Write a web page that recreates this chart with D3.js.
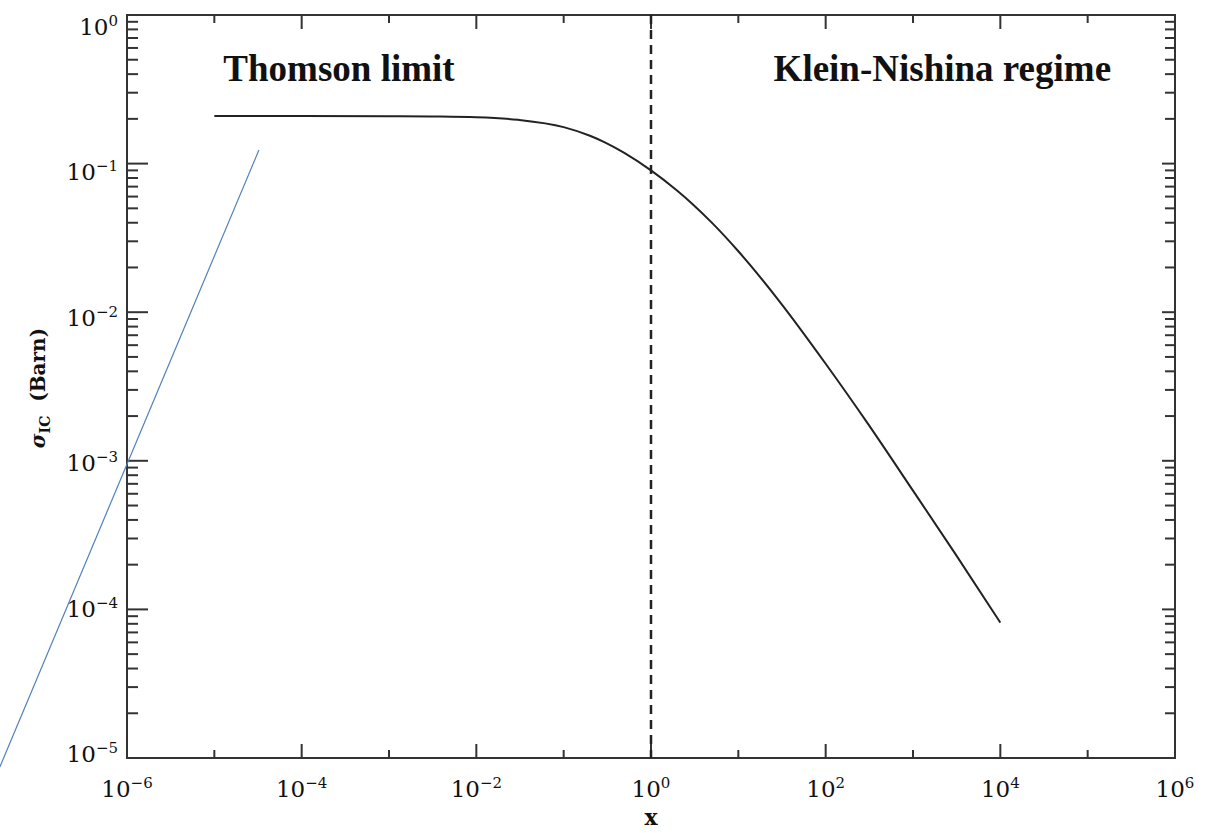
<!DOCTYPE html>
<html>
<head>
<meta charset="utf-8">
<script src="https://cdn.jsdelivr.net/npm/d3@7"></script>
<style>
  body { margin: 0; background: #fff; }
  text { fill: #111; }
</style>
</head>
<body>
<div id="chart"></div>
<script>
// values
var photonEnergy = [1e-5, 1e-4, 1e-3, 3e-3, 1e-2, 3e-2, 0.1, 0.2, 0.3, 0.5, 1, 2, 3, 5, 10, 30, 100, 300, 1e3, 3e3, 1e4];
var sigmaIC = [0.209, 0.209, 0.2086, 0.2075, 0.205, 0.197, 0.176, 0.154, 0.1385, 0.1176, 0.090, 0.0656, 0.0533, 0.0399, 0.0257, 0.0117, 0.0045, 0.0018, 0.00063, 0.00024, 0.0000815];
var xMajorExp = [-6, -4, -2, 0, 2, 4, 6];
var xMinorExp = [-5, -3, -1, 1, 3, 5];
var yMajorExp = [0, -1, -2, -3, -4, -5];
var regimeLabels = ["Thomson limit", "Klein-Nishina regime"];
var regimeX = [1e-5, 20];         // where each label starts (data x)
var regimeBoundary = 1;           // dashed line at x = 1
// hand-drawn blue stroke on the slide, two ends in data coords
var strokeX = [3.24e-5, 3.5e-8];
var strokeY = [0.1235, 8.7e-6];

var margin = {top: 15, right: 41, bottom: 75, left: 127},
    width = 1216 - margin.left - margin.right,
    height = 833 - margin.top - margin.bottom;

var svg = d3.select("#chart")
    .append("svg")
    .attr("width", 1216)
    .attr("height", 833);
var g = svg.append("g")
    .attr("transform", "translate(" + margin.left + "," + margin.top + ")");

var x = d3.scaleLog().domain([1e-6, 1e6]).range([0, width]);
var y = d3.scaleLog().domain([1e-5, 1]).range([height, 0]);

var axisColor = "#333";

// y minor ticks: 2..9 in every decade
var yMinor = [];
for (var e = -5; e < 0; e++) {
    for (var m = 2; m <= 9; m++) yMinor.push(m * Math.pow(10, e));
}

// left / right ticks
g.selectAll(".ymaj-l").data(yMajorExp).enter().append("line")
    .attr("x1", 0).attr("x2", 21)
    .attr("y1", d => y(Math.pow(10, d))).attr("y2", d => y(Math.pow(10, d)))
    .attr("stroke", axisColor).attr("stroke-width", 2);
g.selectAll(".ymin-l").data(yMinor).enter().append("line")
    .attr("x1", 0).attr("x2", 11)
    .attr("y1", d => y(d)).attr("y2", d => y(d))
    .attr("stroke", axisColor).attr("stroke-width", 2);
g.selectAll(".ymaj-r").data(yMajorExp).enter().append("line")
    .attr("x1", width).attr("x2", width - 13)
    .attr("y1", d => y(Math.pow(10, d))).attr("y2", d => y(Math.pow(10, d)))
    .attr("stroke", axisColor).attr("stroke-width", 2);
g.selectAll(".ymin-r").data(yMinor).enter().append("line")
    .attr("x1", width).attr("x2", width - 10)
    .attr("y1", d => y(d)).attr("y2", d => y(d))
    .attr("stroke", axisColor).attr("stroke-width", 2);

// bottom / top ticks
[[height, -1], [0, 1]].forEach(function (side) {
    g.selectAll(null).data(xMajorExp).enter().append("line")
        .attr("x1", d => x(Math.pow(10, d))).attr("x2", d => x(Math.pow(10, d)))
        .attr("y1", side[0]).attr("y2", side[0] + side[1] * 14)
        .attr("stroke", axisColor).attr("stroke-width", 2);
    g.selectAll(null).data(xMinorExp).enter().append("line")
        .attr("x1", d => x(Math.pow(10, d))).attr("x2", d => x(Math.pow(10, d)))
        .attr("y1", side[0]).attr("y2", side[0] + side[1] * 8)
        .attr("stroke", axisColor).attr("stroke-width", 2);
});

// frame
g.append("rect")
    .attr("width", width).attr("height", height)
    .attr("fill", "none")
    .attr("stroke", axisColor).attr("stroke-width", 2);

var supText = d => (d < 0 ? "\u2212" + (-d) : "" + d);

// x tick labels
var xl = g.selectAll(".xlab").data(xMajorExp).enter().append("text")
    .attr("x", d => x(Math.pow(10, d)))
    .attr("y", height + 39)
    .attr("text-anchor", "middle")
    .style("font-family", "DejaVu Serif")
    .style("font-size", "23px");
xl.append("tspan").text("10");
xl.append("tspan").attr("dy", -9).style("font-size", "15px").text(supText);

// y tick labels (right aligned)
var yl = g.selectAll(".ylab").data(yMajorExp).enter().append("text")
    .attr("x", -9)
    .attr("y", (d, i) => y(Math.pow(10, d)) + 20 - 3.2 * i)
    .attr("text-anchor", "end")
    .style("font-family", "DejaVu Serif")
    .style("font-size", "23px");
yl.append("tspan").text("10");
yl.append("tspan").attr("dy", -9).style("font-size", "15px").text(supText);

// dashed boundary
g.append("line")
    .attr("x1", x(regimeBoundary)).attr("x2", x(regimeBoundary))
    .attr("y1", 0).attr("y2", height)
    .attr("stroke", "#222").attr("stroke-width", 2.5)
    .attr("stroke-dasharray", "9,6");

// cross section curve
var line = d3.line()
    .x(d => x(d[0]))
    .y(d => y(d[1]))
    .curve(d3.curveMonotoneX);
g.append("path")
    .datum(d3.zip(photonEnergy, sigmaIC))
    .attr("d", line)
    .attr("fill", "none")
    .attr("stroke", "#222")
    .attr("stroke-width", 2);

// regime labels
g.selectAll(".regime").data(regimeLabels).enter().append("text")
    .attr("x", (d, i) => x(regimeX[i]) + 9)
    .attr("y", 66)
    .style("font-family", "Liberation Serif")
    .style("font-weight", "bold")
    .style("font-size", "37px")
    .text(d => d);

// axis titles
g.append("text")
    .attr("x", width / 2)
    .attr("y", height + 67)
    .attr("text-anchor", "middle")
    .style("font-family", "DejaVu Serif")
    .style("font-weight", "bold")
    .style("font-size", "22px")
    .text("x");

var yt = svg.append("text")
    .attr("transform", "translate(45,388) rotate(-90)")
    .attr("text-anchor", "middle")
    .style("font-family", "DejaVu Serif")
    .style("font-weight", "bold")
    .style("font-size", "20px");
yt.append("tspan").style("font-style", "italic").text("\u03c3");
yt.append("tspan").attr("dy", 5).style("font-size", "14px").text("IC");
yt.append("tspan").attr("dy", -5).text("\u00a0\u00a0(Barn)");

// blue stroke from the slide
g.append("line")
    .attr("x1", x(strokeX[0])).attr("y1", y(strokeY[0]))
    .attr("x2", x(strokeX[1])).attr("y2", y(strokeY[1]))
    .attr("stroke", "#4f81bd").attr("stroke-width", 1.2);
</script>
</body>
</html>
